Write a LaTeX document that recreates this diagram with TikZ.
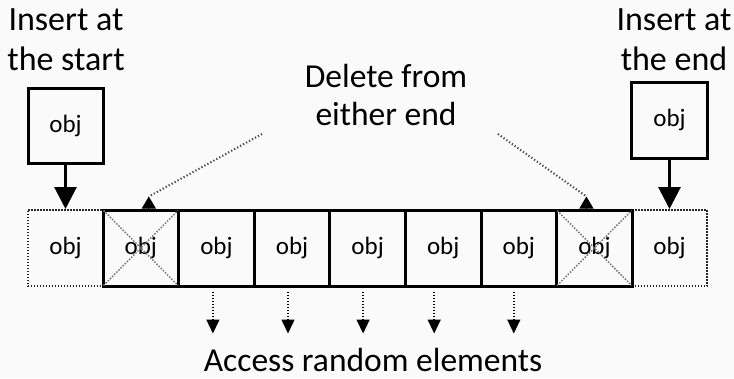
\documentclass[tikz,border=0pt]{standalone}
\usepackage{fontspec}
\setmainfont{Carlito}
\usetikzlibrary{arrows.meta}
\definecolor{paper}{RGB}{250,250,250}
\definecolor{crossgray}{RGB}{120,120,120}

\begin{document}
\begin{tikzpicture}[
  x = 1pt,
  y = -1pt,
  cell/.style = {draw, line width = 3pt, minimum width = 75.6pt,
    minimum height = 76pt, inner sep = 0pt, font = \fontsize{25}{28}\selectfont},
  spare/.style = {cell, draw = black!85, line width = 2pt,
    dash pattern = on 1.5pt off 1.5pt},
  caption/.style = {align = center, anchor = base, font = \fontsize{34}{40}\selectfont},
  insert/.style = {line width = 3pt, -{Triangle[length = 22pt, width = 22pt]}},
  delete/.style = {line width = 2pt, black!75, dash pattern = on 1.2pt off 2.2pt},
  deletetip/.style = {line width = 1pt, -{Triangle[length = 12pt, width = 14pt]}},
  cross/.style = {line width = 1.5pt, crossgray, dash pattern = on 1.5pt off 1.5pt,
    shorten < = 3pt, shorten > = 3pt},
  access/.style = {line width = 1.5pt, dash pattern = on 1.5pt off 1.5pt,
    -{Triangle[length = 14pt, width = 13pt]}},
  ]

  \fill [paper] (0, 0) rectangle (734, 378);

  \useasboundingbox (0, 0) rectangle (734, 378);

  \node at (65.5, 248)
  [spare, name = BeforeFront] {obj};

  \node at (669.5, 248)
  [spare, name = AfterBack] {obj};

  \node at (140.8, 248)
  [cell, name = Front] {obj};

  \node at (216.4, 248)
  [cell, name = Second] {obj};

  \node at (292, 248)
  [cell, name = Third] {obj};

  \node at (367.6, 248)
  [cell, name = Fourth] {obj};

  \node at (443.2, 248)
  [cell, name = Fifth] {obj};

  \node at (518.8, 248)
  [cell, name = Sixth] {obj};

  \node at (594.4, 248)
  [cell, name = Back] {obj};

  \node at (65.5, 125.5)
  [cell, minimum width = 75pt, minimum height = 75pt, name = PushFront] {obj};

  \node at (669.5, 120)
  [cell, minimum width = 76pt, minimum height = 76pt, name = PushBack] {obj};

  \node at (66, 70)
  [caption, name = StartLabel] {Insert at\\the start};

  \node at (674, 70)
  [caption, name = EndLabel] {Insert at\\the end};

  \node at (386, 125)
  [caption, font = \fontsize{33.5}{38}\selectfont, name = DeleteLabel] {Delete from\\either end};

  \node at (373, 371)
  [caption, font = \fontsize{33.5}{38}\selectfont, name = AccessLabel] {Access random elements};

  \draw [cross] (Front.north west) to (Front.south east);

  \draw [cross] (Front.south west) to (Front.north east);

  \draw [cross] (Back.north west) to (Back.south east);

  \draw [cross] (Back.south west) to (Back.north east);

  \draw [insert] (PushFront) to (BeforeFront.north);

  \draw [insert] (PushBack) to (AfterBack.north);

  \coordinate (DeleteFrontTip) at ([xshift = 8pt, yshift = 12pt] Front.north);

  \coordinate (DeleteBackTip) at ([xshift = -8pt, yshift = 12pt] Back.north);

  \draw [delete] (262, 134) to (DeleteFrontTip);

  \draw [delete] (498, 134) to (DeleteBackTip);

  \draw [deletetip] ([xshift = 8pt] Front.north) to (DeleteFrontTip);

  \draw [deletetip] ([xshift = -8pt] Back.north) to (DeleteBackTip);

  \draw [access] ([xshift = -3.5pt, yshift = -4pt] Second.south) to +(0, 42);

  \draw [access] ([xshift = -4pt, yshift = -4pt] Third.south) to +(0, 42);

  \draw [access] ([xshift = -4.5pt, yshift = -4pt] Fourth.south) to +(0, 42);

  \draw [access] ([xshift = -9pt, yshift = -4pt] Fifth.south) to +(0, 42);

  \draw [access] ([xshift = -5pt, yshift = -4pt] Sixth.south) to +(0, 42);

\end{tikzpicture}
\end{document}
